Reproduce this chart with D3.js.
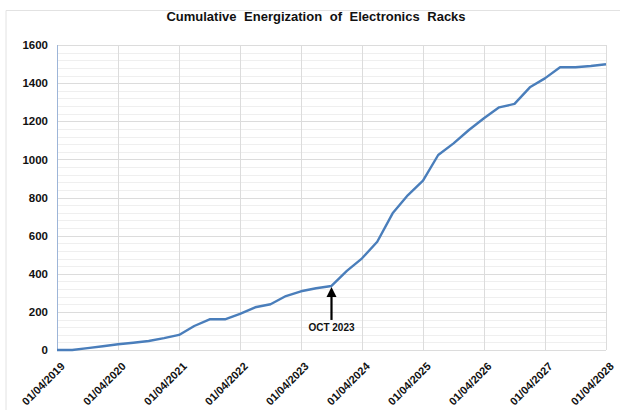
<!DOCTYPE html>
<html>
<head>
<meta charset="utf-8">
<script src="https://cdn.jsdelivr.net/npm/d3@7"></script>
<style>
  html, body { margin: 0; padding: 0; background: #fff; }
  svg { display: block; font-family: "Liberation Sans", Arial, sans-serif; }
</style>
</head>
<body>
<svg id="chart" width="620" height="410"></svg>
<script>
// Quarterly dates (dd/mm/yyyy) and cumulative rack counts
const dates = [
  "01/04/2019","01/07/2019","01/10/2019","01/01/2020",
  "01/04/2020","01/07/2020","01/10/2020","01/01/2021",
  "01/04/2021","01/07/2021","01/10/2021","01/01/2022",
  "01/04/2022","01/07/2022","01/10/2022","01/01/2023",
  "01/04/2023","01/07/2023","01/10/2023","01/01/2024",
  "01/04/2024","01/07/2024","01/10/2024","01/01/2025",
  "01/04/2025","01/07/2025","01/10/2025","01/01/2026",
  "01/04/2026","01/07/2026","01/10/2026","01/01/2027",
  "01/04/2027","01/07/2027","01/10/2027","01/01/2028",
  "01/04/2028"
];
const racks = [
  0, 0, 10, 20,
  30, 38, 47, 62,
  79, 126, 161, 161,
  189, 224, 240, 283,
  308, 324, 336, 415,
  481, 568, 717, 813,
  888, 1023, 1084, 1154,
  1216, 1273, 1291, 1378,
  1425, 1483, 1483, 1490,
  1499
];
const xTickLabels = [
  "01/04/2019","01/04/2020","01/04/2021","01/04/2022","01/04/2023",
  "01/04/2024","01/04/2025","01/04/2026","01/04/2027","01/04/2028"
];
const yTicks = [0, 200, 400, 600, 800, 1000, 1200, 1400, 1600];
const yMinorTicks = d3.range(0, 1601, 40);
const title = "Cumulative Energization of Electronics Racks";
const markerDate = "01/10/2023";
const markerLabel = "OCT 2023";

const parse = d3.timeParse("%d/%m/%Y");
const data = dates.map((d, i) => ({ date: parse(d), value: racks[i] }));

const svg = d3.select("#chart");
const margin = { left: 57, right: 14, top: 45, bottom: 60 };
const W = 620, H = 410;
const plotW = W - margin.left - margin.right;
const plotH = H - margin.top - margin.bottom;

const x = d3.scaleTime()
  .domain([parse(xTickLabels[0]), parse(xTickLabels[xTickLabels.length - 1])])
  .range([margin.left, margin.left + plotW]);
const y = d3.scaleLinear()
  .domain([0, 1600])
  .range([margin.top + plotH, margin.top]);

// Outer chart-area frame
svg.append("path")
  .attr("d", `M6,${H} V10.5 H${W}`)
  .attr("fill", "none")
  .attr("stroke", "#e2e2e2")
  .attr("stroke-width", 1);

// Title
svg.append("text")
  .attr("x", 316)
  .attr("y", 21)
  .attr("text-anchor", "middle")
  .attr("font-size", 13)
  .attr("font-weight", "bold")
  .attr("word-spacing", 4)
  .attr("fill", "#111")
  .text(title);

// Minor horizontal gridlines
svg.append("g")
  .selectAll("line")
  .data(yMinorTicks.filter(v => !yTicks.includes(v)))
  .join("line")
  .attr("x1", margin.left).attr("x2", margin.left + plotW)
  .attr("y1", d => Math.round(y(d)) + 0.5).attr("y2", d => Math.round(y(d)) + 0.5)
  .attr("stroke", "#efefef");

// Major horizontal gridlines
svg.append("g")
  .selectAll("line")
  .data(yTicks)
  .join("line")
  .attr("x1", margin.left).attr("x2", margin.left + plotW)
  .attr("y1", d => Math.round(y(d)) + 0.5).attr("y2", d => Math.round(y(d)) + 0.5)
  .attr("stroke", "#dcdcdc");

// Vertical gridlines at each year
svg.append("g")
  .selectAll("line")
  .data(xTickLabels.map(parse))
  .join("line")
  .attr("x1", d => Math.round(x(d)) + 0.5).attr("x2", d => Math.round(x(d)) + 0.5)
  .attr("y1", margin.top).attr("y2", margin.top + plotH)
  .attr("stroke", "#dcdcdc");

// Value axis line
svg.append("line")
  .attr("x1", margin.left + 0.5).attr("x2", margin.left + 0.5)
  .attr("y1", margin.top).attr("y2", margin.top + plotH)
  .attr("stroke", "#9db5d8");

// Y axis labels
const yAxis = d3.axisLeft(y).tickValues(yTicks).tickFormat(d3.format("d"))
  .tickSize(0).tickPadding(9);
const gy = svg.append("g")
  .attr("transform", `translate(${margin.left},0)`)
  .call(yAxis);
gy.select(".domain").remove();
gy.selectAll("text")
  .attr("font-family", "Liberation Sans, Arial, sans-serif")
  .attr("font-size", 11.5)
  .attr("font-weight", "bold")
  .attr("fill", "#111");

// X axis labels (rotated)
const xAxis = d3.axisBottom(x)
  .tickValues(xTickLabels.map(parse))
  .tickFormat(d3.timeFormat("%d/%m/%Y"))
  .tickSize(0);
const gx = svg.append("g")
  .attr("transform", `translate(0,${margin.top + plotH})`)
  .call(xAxis);
gx.select(".domain").remove();
gx.selectAll("text")
  .attr("font-family", "Liberation Sans, Arial, sans-serif")
  .attr("font-size", 11)
  .attr("font-weight", "bold")
  .attr("fill", "#111")
  .attr("text-anchor", "end")
  .attr("dy", 0)
  .attr("y", 0)
  .attr("transform", "translate(8,17) rotate(-45)");

// Series line
const line = d3.line().x(d => x(d.date)).y(d => y(d.value));
svg.append("path")
  .datum(data)
  .attr("d", line)
  .attr("fill", "none")
  .attr("stroke", "#4a7ebb")
  .attr("stroke-width", 2.4)
  .attr("stroke-linejoin", "round");

// Marker arrow pointing at the Oct 2023 point
const mIdx = dates.indexOf(markerDate);
const mx = x(parse(markerDate));
const my = y(racks[mIdx]);
svg.append("line")
  .attr("x1", mx).attr("x2", mx)
  .attr("y1", my + 8).attr("y2", my + 34)
  .attr("stroke", "#000").attr("stroke-width", 2.2);
svg.append("path")
  .attr("d", `M${mx},${my + 1} L${mx - 5},${my + 11} L${mx + 5},${my + 11} Z`)
  .attr("fill", "#000");
svg.append("text")
  .attr("x", mx)
  .attr("y", my + 45)
  .attr("text-anchor", "middle")
  .attr("font-size", 10)
  .attr("font-weight", "bold")
  .attr("fill", "#111")
  .text(markerLabel);
</script>
</body>
</html>
